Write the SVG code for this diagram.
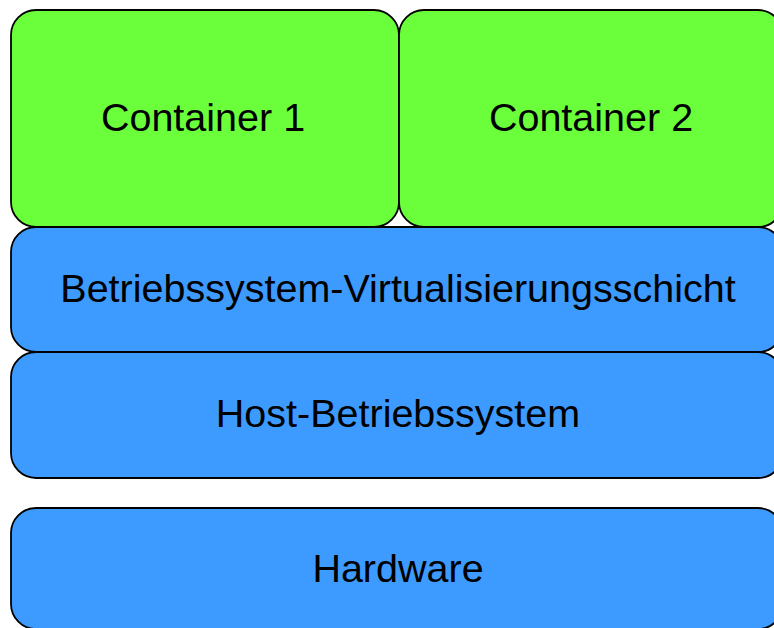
<svg xmlns="http://www.w3.org/2000/svg" width="774" height="628" viewBox="0 0 774 628">
<style>
.g{fill:#6bff3b;stroke:#000;stroke-width:1.8}
.b{fill:#3d9bff;stroke:#000;stroke-width:1.8}
text{font-family:"Liberation Sans",Arial,sans-serif;font-size:39.5px;fill:#000;text-anchor:middle;dominant-baseline:central}
</style>
<rect width="774" height="628" fill="#fff"/>
<g id="hardware"><rect class="b" x="11" y="508" width="772" height="121" rx="25"/><text x="398" y="568">Hardware</text></g>
<g id="host"><rect class="b" x="11" y="352" width="772" height="126" rx="25"/><text x="398" y="413">Host-Betriebssystem</text></g>
<g id="virt"><rect class="b" x="11" y="227" width="772" height="125" rx="25"/><text x="398" y="288">Betriebssystem-Virtualisierungsschicht</text></g>
<g id="container1"><rect class="g" x="11" y="10" width="388" height="217" rx="25"/><text x="203" y="117">Container 1</text></g>
<g id="container2"><rect class="g" x="399" y="10" width="384" height="217" rx="25"/><text x="591" y="117">Container 2</text></g>
<g id="connectors"/>
</svg>
